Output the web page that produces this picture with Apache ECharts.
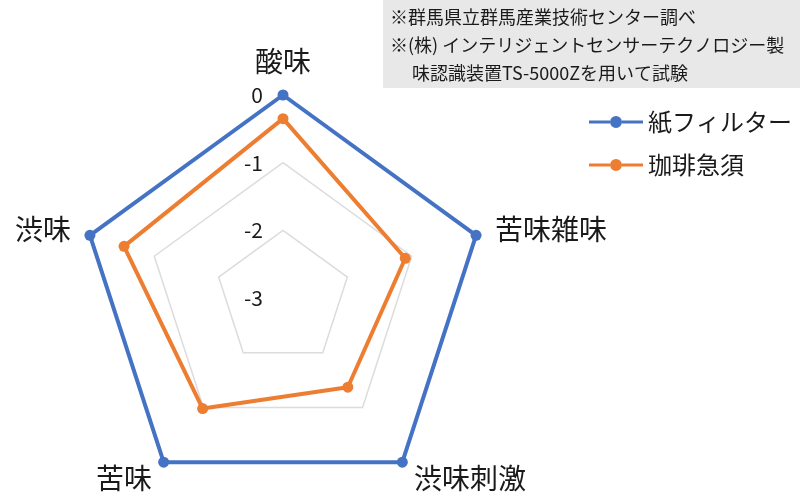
<!DOCTYPE html>
<html>
<head>
<meta charset="utf-8">
<script src="https://cdn.jsdelivr.net/npm/echarts@6/dist/echarts.min.js"></script>
<style>
  html, body { margin: 0; padding: 0; background: #fff; }
  #chart { width: 800px; height: 500px; }
</style>
</head>
<body>
<div id="chart"></div>
<script>
// taste axes, clockwise from the top
const axes = ['酸味', '苦味雑味', '渋味刺激', '苦味', '渋味'];
const axisMin = -3;
const axisMax = 0;
const paperFilter = [0, 0, 0, 0, 0];
const kyusu = [-0.35, -1.1, -1.37, -0.98, -0.53];
const seriesNames = ['紙フィルター', '珈琲急須'];
const notes = [
  '※群馬県立群馬産業技術センター調べ',
  '※(株) インテリジェントセンサーテクノロジー製',
  '\u3000 味認識装置TS-5000Zを用いて試験'
];

// echarts lays radar axes out counter-clockwise, so flip the order after the first
const ccw = arr => [arr[0]].concat(arr.slice(1).reverse());

const font = '"Noto Sans CJK JP", "Noto Sans", sans-serif';
const blue = '#4472C4';
const orange = '#ED7D31';
// legend icon: short line with a dot in the middle
const lineDot = 'path://M0,5.5H21V8.5H0Z M33,5.5H54V8.5H33Z M21,7A6,6,0,1,1,33,7A6,6,0,1,1,21,7Z';

const chart = echarts.init(document.getElementById('chart'));
chart.setOption({
  animation: false,
  textStyle: { fontFamily: font },
  graphic: [
    {
      type: 'rect',
      shape: { x: 383, y: 0, width: 417, height: 88 },
      style: { fill: '#e8e8e8' },
      silent: true
    },
    {
      type: 'text',
      left: 390,
      top: 3,
      style: {
        text: notes.join('\n'),
        font: '18px ' + font,
        lineHeight: 28,
        fill: '#1a1a1a'
      }
    }
  ],
  legend: {
    orient: 'vertical',
    left: 584,
    top: 105,
    itemWidth: 54,
    itemHeight: 14,
    itemGap: 19,
    icon: lineDot,
    textStyle: { fontSize: 24, color: '#1a1a1a', fontFamily: font },
    data: seriesNames
  },
  radar: {
    center: [283, 298],
    radius: 203,
    startAngle: 90,
    splitNumber: 3,
    nameGap: 20,
    axisName: { color: '#1a1a1a', fontSize: 28, fontFamily: font },
    indicator: ccw(axes).map((name, i) => {
      const ind = { name: name, min: axisMin, max: axisMax };
      if (i === 0) {
        ind.axisLabel = { show: true, margin: 20, fontSize: 21, color: '#1a1a1a', fontFamily: font };
      }
      return ind;
    }),
    axisLabel: { show: false },
    axisLine: { show: false },
    axisTick: { show: false },
    splitLine: { lineStyle: { color: '#dcdcdc', width: 1.5 } },
    splitArea: { show: false }
  },
  series: [{
    type: 'radar',
    symbol: 'circle',
    symbolSize: 11,
    data: [
      {
        name: seriesNames[0],
        value: ccw(paperFilter),
        lineStyle: { color: blue, width: 4 },
        itemStyle: { color: blue }
      },
      {
        name: seriesNames[1],
        value: ccw(kyusu),
        lineStyle: { color: orange, width: 4 },
        itemStyle: { color: orange }
      }
    ]
  }]
});
</script>
</body>
</html>
